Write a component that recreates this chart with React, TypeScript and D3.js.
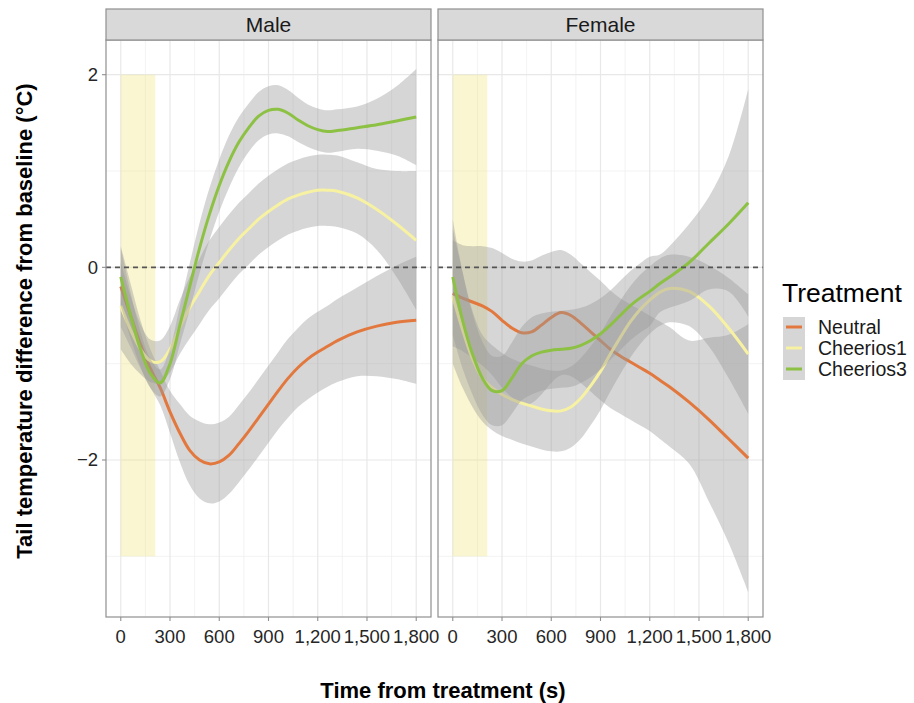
import React, { useEffect, useRef } from "react";
import * as d3 from "d3";

// seconds after treatment where the smooth is sampled
const times = [0, 60, 120, 180, 240, 300, 360, 420, 480, 540, 600, 660, 720, 780, 840, 900, 960, 1020, 1080, 1140, 1200, 1260, 1320, 1440, 1560, 1680, 1800];

// Male
const maleNeutral = [-0.2, -0.5, -0.8, -1.05, -1.25, -1.5, -1.72, -1.9, -2.0, -2.04, -2.02, -1.95, -1.83, -1.7, -1.56, -1.42, -1.28, -1.15, -1.04, -0.95, -0.88, -0.82, -0.76, -0.67, -0.61, -0.57, -0.55];
const maleNeutralCI = [0.42, 0.33, 0.25, 0.2, 0.18, 0.22, 0.3, 0.36, 0.4, 0.41, 0.41, 0.4, 0.4, 0.4, 0.4, 0.4, 0.4, 0.41, 0.41, 0.42, 0.42, 0.42, 0.43, 0.46, 0.52, 0.59, 0.66];
const maleCheerios1 = [-0.4, -0.65, -0.85, -0.97, -0.98, -0.85, -0.62, -0.42, -0.25, -0.08, 0.05, 0.18, 0.3, 0.4, 0.5, 0.58, 0.65, 0.71, 0.75, 0.78, 0.8, 0.8, 0.79, 0.72, 0.6, 0.45, 0.28];
const maleCheerios1CI = [0.45, 0.35, 0.26, 0.22, 0.22, 0.24, 0.28, 0.32, 0.34, 0.36, 0.37, 0.37, 0.37, 0.37, 0.37, 0.37, 0.37, 0.37, 0.37, 0.37, 0.37, 0.37, 0.37, 0.37, 0.42, 0.55, 0.72];
const maleCheerios3 = [-0.1, -0.5, -0.85, -1.1, -1.2, -1.0, -0.6, -0.2, 0.2, 0.55, 0.85, 1.1, 1.3, 1.45, 1.57, 1.63, 1.64, 1.6, 1.53, 1.47, 1.43, 1.41, 1.42, 1.45, 1.48, 1.52, 1.56];
const maleCheerios3CI = [0.3, 0.24, 0.18, 0.15, 0.14, 0.16, 0.2, 0.24, 0.26, 0.27, 0.27, 0.27, 0.26, 0.25, 0.25, 0.25, 0.25, 0.24, 0.23, 0.22, 0.22, 0.22, 0.22, 0.22, 0.27, 0.36, 0.5];

// Female
const femaleNeutral = [-0.27, -0.32, -0.36, -0.4, -0.46, -0.55, -0.63, -0.68, -0.67, -0.6, -0.52, -0.47, -0.5, -0.58, -0.67, -0.76, -0.85, -0.92, -0.98, -1.04, -1.1, -1.17, -1.24, -1.4, -1.58, -1.78, -1.98];
const femaleNeutralCI = [0.55, 0.55, 0.58, 0.62, 0.66, 0.7, 0.72, 0.74, 0.74, 0.72, 0.68, 0.65, 0.63, 0.62, 0.62, 0.62, 0.61, 0.6, 0.6, 0.6, 0.6, 0.61, 0.62, 0.64, 0.85, 1.08, 1.39];
const femaleCheerios1 = [-0.3, -0.65, -0.95, -1.15, -1.25, -1.32, -1.37, -1.41, -1.44, -1.47, -1.49, -1.49, -1.45, -1.36, -1.23, -1.08, -0.9, -0.73, -0.57, -0.44, -0.34, -0.26, -0.22, -0.25, -0.4, -0.63, -0.9];
const femaleCheerios1CI = [0.7, 0.6, 0.5, 0.45, 0.44, 0.43, 0.42, 0.42, 0.42, 0.42, 0.42, 0.42, 0.42, 0.42, 0.41, 0.4, 0.39, 0.38, 0.37, 0.36, 0.35, 0.35, 0.35, 0.36, 0.42, 0.52, 0.62];
const femaleCheerios3 = [-0.1, -0.55, -0.9, -1.15, -1.28, -1.28, -1.15, -1.0, -0.92, -0.88, -0.86, -0.85, -0.84, -0.81, -0.76, -0.69, -0.6, -0.5, -0.4, -0.32, -0.25, -0.17, -0.1, 0.05, 0.25, 0.45, 0.67];
const femaleCheerios3CI = [0.6, 0.5, 0.42, 0.38, 0.36, 0.36, 0.37, 0.38, 0.4, 0.4, 0.4, 0.4, 0.4, 0.39, 0.38, 0.37, 0.36, 0.36, 0.36, 0.36, 0.36, 0.3, 0.32, 0.4, 0.48, 0.7, 1.18];

const treatments = ["Neutral", "Cheerios1", "Cheerios3"];
const treatmentColors = ["#E2783E", "#F7F1A2", "#8DC144"];
const sexes = ["Male", "Female"];
const xTicks = [0, 300, 600, 900, 1200, 1500, 1800];
const xMinor = [150, 450, 750, 1050, 1350, 1650];
const yTicks = [-2, 0, 2];
const yMinor = [-3, -1, 1];
const stimulusTimes = [0, 210];
const stimulusTemps = [-3, 2];

const font = "Liberation Sans, Arial, Helvetica, sans-serif";

const App = () => {
    const chartRef = useRef(null);

    useEffect(() => {
        const svg = d3.select(chartRef.current);
        svg.selectAll("*").remove();

        const panelTop = 40;
        const panelBottom = 617;
        const stripTop = 9;
        const panelRanges = [[106, 431], [438, 763]];
        const means = [
            [maleNeutral, maleCheerios1, maleCheerios3],
            [femaleNeutral, femaleCheerios1, femaleCheerios3]
        ];
        const cis = [
            [maleNeutralCI, maleCheerios1CI, maleCheerios3CI],
            [femaleNeutralCI, femaleCheerios1CI, femaleCheerios3CI]
        ];

        const y = d3.scaleLinear().domain([-3.63, 2.36]).range([panelBottom, panelTop]);
        const fmt = d3.format(",");

        sexes.forEach((sex, p) => {
            const [x0, x1] = panelRanges[p];
            const x = d3.scaleLinear().domain([-90, 1890]).range([x0, x1]);
            const g = svg.append("g");

            const clipId = `clip-${sex}`;
            g.append("clipPath").attr("id", clipId)
                .append("rect")
                .attr("x", x0).attr("y", panelTop)
                .attr("width", x1 - x0).attr("height", panelBottom - panelTop);

            g.append("rect")
                .attr("x", x0).attr("y", panelTop)
                .attr("width", x1 - x0).attr("height", panelBottom - panelTop)
                .attr("fill", "#ffffff");

            // grid
            g.selectAll(".vminor").data(xMinor).enter().append("line")
                .attr("x1", d => x(d)).attr("x2", d => x(d))
                .attr("y1", panelTop).attr("y2", panelBottom)
                .attr("stroke", "#EEEEEE").attr("stroke-width", 0.7);
            g.selectAll(".hminor").data(yMinor).enter().append("line")
                .attr("x1", x0).attr("x2", x1)
                .attr("y1", d => y(d)).attr("y2", d => y(d))
                .attr("stroke", "#EEEEEE").attr("stroke-width", 0.7);
            g.selectAll(".vmajor").data(xTicks).enter().append("line")
                .attr("x1", d => x(d)).attr("x2", d => x(d))
                .attr("y1", panelTop).attr("y2", panelBottom)
                .attr("stroke", "#E8E8E8").attr("stroke-width", 1.2);
            g.selectAll(".hmajor").data(yTicks).enter().append("line")
                .attr("x1", x0).attr("x2", x1)
                .attr("y1", d => y(d)).attr("y2", d => y(d))
                .attr("stroke", "#E8E8E8").attr("stroke-width", 1.2);

            // stimulus window
            g.append("rect")
                .attr("x", x(stimulusTimes[0]))
                .attr("y", y(stimulusTemps[1]))
                .attr("width", x(stimulusTimes[1]) - x(stimulusTimes[0]))
                .attr("height", y(stimulusTemps[0]) - y(stimulusTemps[1]))
                .attr("fill", "#EEE066")
                .attr("opacity", 0.3);

            const plot = g.append("g").attr("clip-path", `url(#${clipId})`);

            treatments.forEach((t, k) => {
                const rows = times.map((tm, i) => ({ t: tm, m: means[p][k][i], ci: cis[p][k][i] }));
                const area = d3.area()
                    .curve(d3.curveCatmullRom.alpha(0.5))
                    .x(d => x(d.t))
                    .y0(d => y(d.m - d.ci))
                    .y1(d => y(d.m + d.ci));
                const line = d3.line()
                    .curve(d3.curveCatmullRom.alpha(0.5))
                    .x(d => x(d.t))
                    .y(d => y(d.m));

                plot.append("path")
                    .attr("d", area(rows))
                    .attr("fill", "#999999")
                    .attr("opacity", 0.4);
                plot.append("path")
                    .attr("d", line(rows))
                    .attr("fill", "none")
                    .attr("stroke", treatmentColors[k])
                    .attr("stroke-width", 3);
            });

            // baseline
            g.append("line")
                .attr("x1", x0).attr("x2", x1)
                .attr("y1", y(0)).attr("y2", y(0))
                .attr("stroke", "#555555")
                .attr("stroke-width", 1.6)
                .attr("stroke-dasharray", "5,4");

            // border
            g.append("rect")
                .attr("x", x0).attr("y", panelTop)
                .attr("width", x1 - x0).attr("height", panelBottom - panelTop)
                .attr("fill", "none")
                .attr("stroke", "#8F8F8F").attr("stroke-width", 1.2);

            // strip
            g.append("rect")
                .attr("x", x0).attr("y", stripTop)
                .attr("width", x1 - x0).attr("height", panelTop - stripTop)
                .attr("fill", "#D9D9D9")
                .attr("stroke", "#8F8F8F").attr("stroke-width", 1.2);
            g.append("text")
                .attr("x", (x0 + x1) / 2).attr("y", 32)
                .attr("text-anchor", "middle")
                .style("font-family", font).style("font-size", "21px")
                .style("fill", "#1A1A1A")
                .text(sex);

            // x axis
            g.selectAll(".xtick").data(xTicks).enter().append("line")
                .attr("x1", d => x(d)).attr("x2", d => x(d))
                .attr("y1", panelBottom).attr("y2", panelBottom + 4)
                .attr("stroke", "#8F8F8F").attr("stroke-width", 1.1);
            g.selectAll(".xlab").data(xTicks).enter().append("text")
                .attr("x", d => x(d)).attr("y", 643)
                .attr("text-anchor", "middle")
                .style("font-family", font).style("font-size", "18.5px")
                .style("fill", "#262626")
                .text(d => fmt(d));

            if (p === 0) {
                g.selectAll(".ytick").data(yTicks).enter().append("line")
                    .attr("x1", x0 - 4).attr("x2", x0)
                    .attr("y1", d => y(d)).attr("y2", d => y(d))
                    .attr("stroke", "#8F8F8F").attr("stroke-width", 1.1);
                g.selectAll(".ylab").data(yTicks).enter().append("text")
                    .attr("x", 98).attr("y", d => y(d))
                    .attr("dy", "0.35em")
                    .attr("text-anchor", "end")
                    .style("font-family", font).style("font-size", "18.5px")
                    .style("fill", "#262626")
                    .text(d => d3.format("")(d));
            }
        });

        // axis titles
        svg.append("text")
            .attr("x", 443).attr("y", 698)
            .attr("text-anchor", "middle")
            .style("font-family", font).style("font-size", "22px")
            .style("font-weight", "bold")
            .text("Time from treatment (s)");
        svg.append("text")
            .attr("transform", "translate(32, 321) rotate(-90)")
            .attr("text-anchor", "middle")
            .style("font-family", font).style("font-size", "22px")
            .style("font-weight", "bold")
            .text("Tail temperature difference from baseline (°C)");

        // legend
        const legend = svg.append("g");
        legend.append("text")
            .attr("x", 782).attr("y", 302)
            .style("font-family", font).style("font-size", "26.5px")
            .text("Treatment");
        legend.append("rect")
            .attr("x", 783).attr("y", 317)
            .attr("width", 22).attr("height", 63)
            .attr("fill", "#D6D6D6");
        treatments.forEach((t, k) => {
            const cy = 327 + k * 21;
            legend.append("line")
                .attr("x1", 786).attr("x2", 802)
                .attr("y1", cy).attr("y2", cy)
                .attr("stroke", treatmentColors[k]).attr("stroke-width", 3);
            legend.append("text")
                .attr("x", 818).attr("y", cy + 7)
                .style("font-family", font).style("font-size", "19.5px")
                .style("fill", "#1A1A1A")
                .text(t);
        });
    }, []);

    return <svg ref={chartRef} width={914} height={703}
        style={{ position: "absolute", left: 0, top: 0, background: "#ffffff" }} />;
};

export default App;
